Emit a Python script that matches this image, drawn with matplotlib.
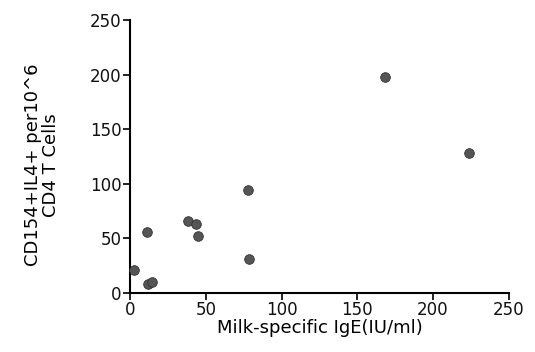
import matplotlib
matplotlib.use('Agg')
import matplotlib.pyplot as plt

# Milk-specific IgE vs CD154+IL4+ cells
ige = [2.5, 11, 12, 14.5, 38, 43.5, 45, 78, 78.5, 168, 224]
cells = [21, 56, 8, 10, 66, 63, 52, 94, 31, 198, 128]

x_ticks = [0, 50, 100, 150, 200, 250]
y_ticks = [0, 50, 100, 150, 200, 250]

plt.rcParams['font.family'] = ['DejaVu Sans']

fig = plt.figure(figsize=(5.35, 3.52), dpi=100)
ax = fig.add_axes([0.243, 0.168, 0.708, 0.775])

ax.scatter(ige, cells, s=48, color='#555555', edgecolors='#333333',
           linewidths=0.6, zorder=3, clip_on=False)

ax.set_xlim(0, 250)
ax.set_ylim(0, 250)
ax.set_xticks(x_ticks)
ax.set_yticks(y_ticks)
ax.spines['top'].set_visible(False)
ax.spines['right'].set_visible(False)
for s in ('left', 'bottom'):
    ax.spines[s].set_linewidth(1.5)
ax.tick_params(direction='out', length=5, width=1.3, labelsize=12,
               colors='#111111', pad=1)

ax.set_xlabel('Milk-specific IgE(IU/ml)', fontsize=13, labelpad=0)
ax.set_ylabel('CD154+IL4+ per10^6\nCD4 T Cells', fontsize=13,
              linespacing=1.0)
ax.yaxis.set_label_coords(-0.185, 0.47)

fig.savefig('out.png', dpi=100)
